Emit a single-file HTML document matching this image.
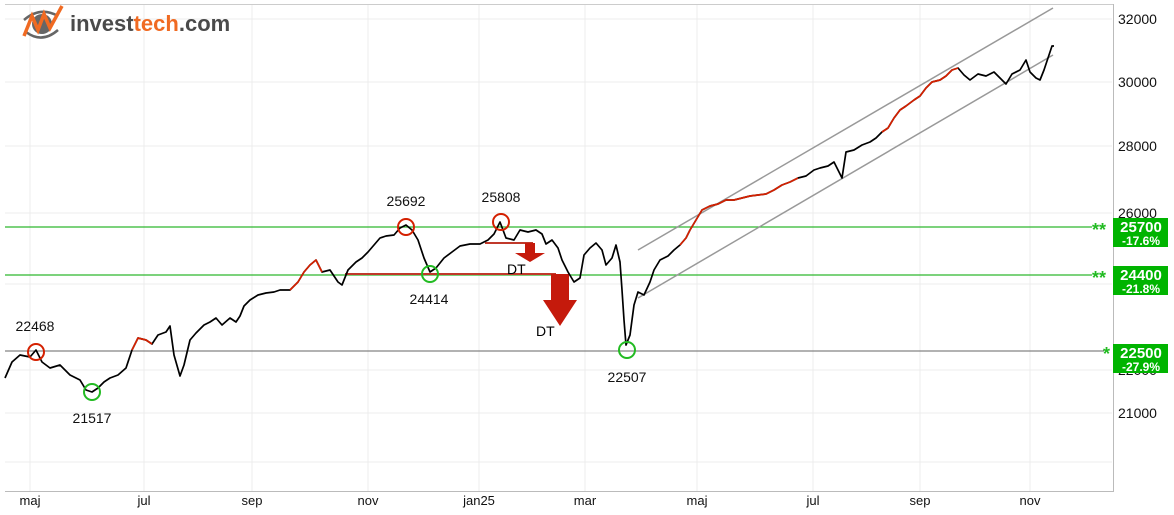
<!DOCTYPE html>
<html><head><meta charset="utf-8"><style>
body{margin:0;background:#fff;}
svg{display:block;font-family:"Liberation Sans",sans-serif;}
</style></head><body>
<svg width="1174" height="515" viewBox="0 0 1174 515">
<rect width="1174" height="515" fill="#fff"/>
<g stroke="#ececec" stroke-width="1">
<line x1="5" y1="19" x2="1112" y2="19"/><line x1="5" y1="82" x2="1112" y2="82"/><line x1="5" y1="146" x2="1112" y2="146"/><line x1="5" y1="213" x2="1112" y2="213"/><line x1="5" y1="284" x2="1112" y2="284"/><line x1="5" y1="370" x2="1112" y2="370"/><line x1="5" y1="413" x2="1112" y2="413"/><line x1="5" y1="462" x2="1112" y2="462"/>
<line x1="30" y1="5" x2="30" y2="491"/><line x1="144" y1="5" x2="144" y2="491"/><line x1="252" y1="5" x2="252" y2="491"/><line x1="368" y1="5" x2="368" y2="491"/><line x1="479" y1="5" x2="479" y2="491"/><line x1="585" y1="5" x2="585" y2="491"/><line x1="697" y1="5" x2="697" y2="491"/><line x1="813" y1="5" x2="813" y2="491"/><line x1="920" y1="5" x2="920" y2="491"/><line x1="1030" y1="5" x2="1030" y2="491"/>
</g>
<line x1="5" y1="4.5" x2="1113" y2="4.5" stroke="#ccc"/>
<line x1="5" y1="491.5" x2="1113" y2="491.5" stroke="#bbb"/>
<line x1="1113.5" y1="4" x2="1113.5" y2="492" stroke="#bbb"/>
<g>
<path d="M24 20 Q40 6 58 16" stroke="#666" stroke-width="2.5" fill="none"/>
<path d="M26 32 Q42 44 58 30" stroke="#666" stroke-width="2.5" fill="none"/>
<circle cx="42" cy="24" r="10" fill="#666"/>
<polyline points="24,36 32,16 38,30 44,14 50,28 62,6" stroke="#f06a22" stroke-width="3.5" fill="none"/>
<text x="70" y="31" font-size="22" font-weight="bold" fill="#4a4a4a">invest<tspan fill="#f06a22">tech</tspan>.com</text>
</g>
<line x1="5" y1="227" x2="1092" y2="227" stroke="#2db82d" stroke-width="1.2"/>
<line x1="5" y1="275" x2="1092" y2="275" stroke="#2db82d" stroke-width="1.2"/>
<line x1="5" y1="351" x2="1104" y2="351" stroke="#666" stroke-width="1"/>
<line x1="638" y1="250" x2="1053" y2="8" stroke="#999" stroke-width="1.5"/>
<line x1="638" y1="298" x2="1053" y2="55" stroke="#999" stroke-width="1.5"/>
<line x1="345" y1="274" x2="556" y2="274" stroke="#c0392b" stroke-width="2"/>
<line x1="485" y1="243" x2="533" y2="243" stroke="#c0392b" stroke-width="2"/>
<polygon points="551,274 569,274 569,300 577,300 560,326 543,300 551,300" fill="#c51a0c"/>
<polygon points="525,243 535,243 535,253 545,253 530,262 515,253 525,253" fill="#c51a0c"/>
<text x="507" y="274" font-size="14" fill="#000">DT</text>
<text x="536" y="336" font-size="14" fill="#000">DT</text>
<polyline fill="none" stroke="#000" stroke-width="1.7" stroke-linejoin="round" points="5,378 12,362 20,355 30,357 36,350 42,362 50,368 60,365 70,375 80,380 86,390 92,392 98,388 104,382 110,378 118,375 126,368 132,350 138,338 146,340 152,344 158,335 166,332 170,326 174,355 180,376 184,365 190,340 196,333 204,325 210,322 216,318 222,325 230,318 236,322 240,316 244,306 250,300 258,295 266,293 274,292 280,290 290,290 298,282 304,272 310,265 316,260 322,272 330,270 338,282 342,285 348,270 356,262 362,258 368,252 374,245 380,238 386,236 394,235 400,228 406,225 412,230 418,240 424,258 430,272 436,268 444,258 452,252 460,246 470,244 480,244 488,240 494,234 500,222 506,238 514,240 520,230 528,232 536,230 542,234 546,244 552,240 558,248 562,260 568,272 574,282 580,278 584,255 590,248 596,243 602,250 606,265 612,258 616,245 620,262 622,290 624,320 626,345 630,335 632,320 634,305 638,292 644,295 650,282 654,270 660,260 668,256 674,250 680,245 686,238 690,230 696,220 702,210 710,206 718,204 726,200 734,200 742,198 750,196 758,195 766,194 774,190 782,185 790,182 798,178 806,176 814,170 820,168 828,166 834,162 838,170 842,178 846,152 854,150 862,145 870,142 876,138 882,132 888,128 894,118 900,110 906,106 914,100 920,96 926,88 932,82 940,80 946,76 952,70 958,68 964,75 970,80 978,74 986,76 994,72 1000,78 1006,84 1012,74 1020,70 1026,60 1030,72 1036,78 1040,80 1044,70 1048,58 1052,46 1054,46"/>
<g fill="none" stroke="#d42000" stroke-width="1.7" stroke-linejoin="round">
<polyline points="132,350 138,338 146,340 152,344"/>
<polyline points="290,290 298,282 304,272 310,265 316,260 322,272"/>
<polyline points="680,245 686,238 690,230 696,220 702,210 710,206 718,204 726,200 734,200 742,198 750,196 758,195 766,194 774,190 782,185 790,182 798,178"/>
<polyline points="882,132 888,128 894,118 900,110 906,106 914,100 920,96 926,88 932,82 940,80 946,76 952,70 958,68"/>
</g>
<g fill="none" stroke-width="2">
<circle cx="36" cy="352" r="8" stroke="#d42000"/><circle cx="406" cy="227" r="8" stroke="#d42000"/><circle cx="501" cy="222" r="8" stroke="#d42000"/>
<circle cx="92" cy="392" r="8" stroke="#22bb22"/><circle cx="430" cy="274" r="8" stroke="#22bb22"/><circle cx="627" cy="350" r="8" stroke="#22bb22"/>
</g>
<g font-size="14" fill="#111" text-anchor="middle">
<text x="35" y="331">22468</text><text x="92" y="423">21517</text><text x="406" y="206">25692</text><text x="429" y="304">24414</text><text x="501" y="202">25808</text><text x="627" y="382">22507</text>
</g>
<g font-size="14" fill="#111">
<text x="1118" y="24">32000</text><text x="1118" y="87">30000</text><text x="1118" y="151">28000</text><text x="1118" y="218">26000</text><text x="1118" y="375">22000</text><text x="1118" y="418">21000</text>
</g>
<g fill="#00b400"><rect x="1113" y="218" width="55" height="29"/><rect x="1113" y="266" width="55" height="29"/><rect x="1113" y="344" width="55" height="29"/></g>
<g fill="#fff" font-weight="bold" text-anchor="middle">
<text x="1141" y="232" font-size="15">25700</text><text x="1141" y="245" font-size="12">-17.6%</text>
<text x="1141" y="280" font-size="15">24400</text><text x="1141" y="293" font-size="12">-21.8%</text>
<text x="1141" y="358" font-size="15">22500</text><text x="1141" y="371" font-size="12">-27.9%</text>
</g>
<g fill="#22bb22" font-size="18" font-weight="bold">
<text x="1092" y="236">**</text><text x="1092" y="284">**</text><text x="1103" y="360">*</text>
</g>
<g font-size="13" fill="#111" text-anchor="middle">
<text x="30" y="505">maj</text><text x="144" y="505">jul</text><text x="252" y="505">sep</text><text x="368" y="505">nov</text><text x="479" y="505">jan25</text><text x="585" y="505">mar</text><text x="697" y="505">maj</text><text x="813" y="505">jul</text><text x="920" y="505">sep</text><text x="1030" y="505">nov</text>
</g>
</svg>
</body></html>
